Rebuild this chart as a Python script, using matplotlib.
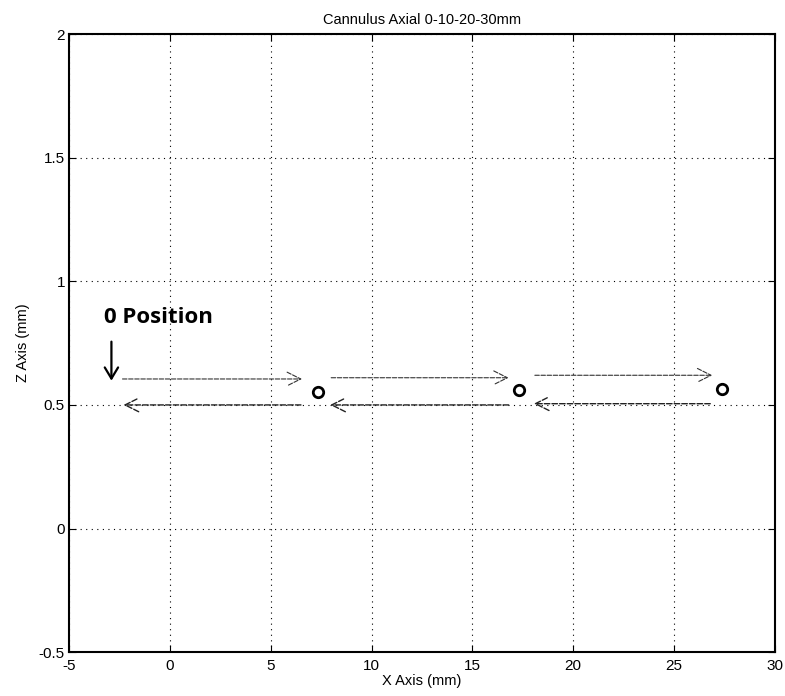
import matplotlib
matplotlib.use("Agg")
from matplotlib import pyplot as plt

plt.rcParams['font.family'] = ['Liberation Sans', 'DejaVu Sans']

# circle positions (measured points)
circle_x = [7.35, 17.3, 27.4]
circle_z = [0.553, 0.56, 0.565]

# forward arrows (upper row): start x, end x, z
fwd_start = [-2.35, 8.0, 18.1]
fwd_end = [6.55, 16.8, 26.9]
fwd_z = [0.605, 0.61, 0.62]

# return arrows (lower row): start x, end x, z
back_start = [6.5, 16.8, 26.8]
back_end = [-2.3, 7.95, 18.05]
back_z = [0.5, 0.5, 0.505]

# "0 Position" marker
zero_x = -2.9
zero_top = 0.756
zero_tip = 0.598
label_x = -3.28
label_z = 0.833

fig = plt.figure(figsize=(7.85, 6.96), dpi=100)
ax = fig.add_axes([0.088, 0.063, 0.899, 0.888])

ax.plot(circle_x, circle_z, 'o', markerfacecolor='white', markeredgecolor='black',
        markersize=7.5, markeredgewidth=2, zorder=5)

thin = dict(arrowstyle='->,head_length=0.7,head_width=0.35', color='#333333', lw=0.8,
            linestyle=(0, (4, 1.5)), shrinkA=0, shrinkB=0, mutation_scale=14)
for x0, x1, z in zip(fwd_start, fwd_end, fwd_z):
    ax.annotate('', xy=(x1, z), xytext=(x0, z), arrowprops=thin)
for x0, x1, z in zip(back_start, back_end, back_z):
    ax.annotate('', xy=(x1, z), xytext=(x0, z), arrowprops=dict(thin, color='#222222', lw=1.0))

ax.annotate('', xy=(zero_x, zero_tip), xytext=(zero_x, zero_top),
            arrowprops=dict(arrowstyle='->,head_length=0.5,head_width=0.3', color='black',
                            lw=1.6, shrinkA=0, shrinkB=0, mutation_scale=16))
ax.text(label_x, label_z, '0 Position', fontsize=16, fontweight='bold',
        family=['Open Sans', 'DejaVu Sans'], ha='left', va='baseline')

ax.set_xlim(-5, 30)
ax.set_ylim(-0.5, 2)
ax.set_xticks([-5, 0, 5, 10, 15, 20, 25, 30])
ax.set_yticks([-0.5, 0, 0.5, 1, 1.5, 2])
ax.set_xticklabels(['-5', '0', '5', '10', '15', '20', '25', '30'])
ax.set_yticklabels(['-0.5', '0', '0.5', '1', '1.5', '2'])
ax.grid(True, color='black', linestyle=(0, (1, 4)), linewidth=0.8)
ax.tick_params(direction='in', top=True, right=True, labelsize=11, length=5)
ax.tick_params(axis='x', pad=5)
ax.tick_params(axis='y', pad=3)
for s in ax.spines.values():
    s.set_linewidth(1.5)

ax.set_title('Cannulus Axial 0-10-20-30mm', fontsize=10.5, pad=7)
ax.set_xlabel('X Axis (mm)', fontsize=10.5, labelpad=1)
ax.set_ylabel('Z Axis (mm)', fontsize=10.5, labelpad=6)

fig.savefig('out.png', dpi=100)
